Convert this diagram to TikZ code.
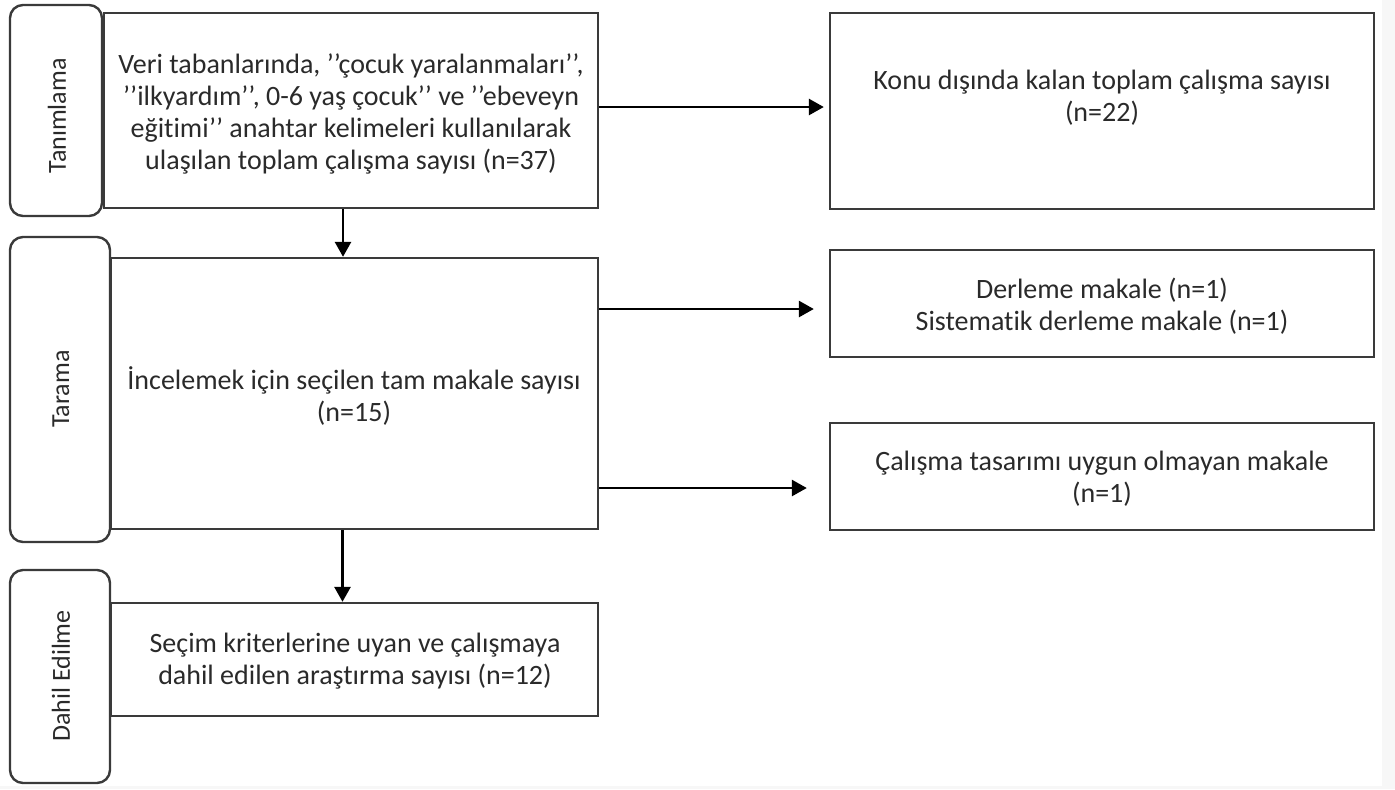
\documentclass[tikz,border=0pt]{standalone}
\usepackage{fontspec}
\setmainfont{Carlito}[Ligatures={NoCommon}]
\usetikzlibrary{arrows.meta,fit}
\definecolor{ln}{HTML}{3A3A3A}
\definecolor{tx}{HTML}{2A2A2A}
\begin{document}
\begin{tikzpicture}[x=0.5pt,y=-0.5pt,
  box/.style={draw=ln, line width=1.2pt, inner sep=0pt, fill=white},
  tab/.style={box, rounded corners=6.5pt},
  txt/.style={font=\fontsize{14}{16}\selectfont, text=tx, align=center, inner sep=0pt},
  tabtxt/.style={txt, font=\fontsize{13}{16}\selectfont, rotate=90},
  arr/.style={line width=1.4pt, draw=black, -{Triangle[length=7.5pt,width=8pt]}}]
\useasboundingbox (0,0) rectangle (1395,789);
\fill[white] (0,0) rectangle (1395,789);
\fill[gray!6] (1382,0) rectangle (1395,789);
\fill[gray!6] (0,786) rectangle (1395,789);

% side tabs
\node[tab, fit={(10,5)(102,216)}] (t1) {};
\node[tab, fit={(10,237)(110,542)}] (t2) {};
\node[tab, fit={(10,570)(110,783)}] (t3) {};
\node[tabtxt] (t1t) at (57,116) {Tanımlama};
\node[tabtxt] (t2t) at (61,389) {Tarama};
\node[tabtxt] (t3t) at (61,676) {Dahil Edilme};

% main boxes
\node[box, fit={(104,13)(598,208)}] (b1) {};
\node[txt] (b1t) at (351,114) {Veri tabanlarında, ’’çocuk yaralanmaları’’,\\ ’’ilkyardım’’, 0-6 yaş çocuk’’ ve ’’ebeveyn\\ eğitimi’’ anahtar kelimeleri kullanılarak\\ ulaşılan toplam çalışma sayısı (n=37)};
\node[box, fit={(111,258)(598,529)}] (b2) {};
\node[txt] (b2t) at (354,396) {İncelemek için seçilen tam makale sayısı\\ (n=15)};
\node[box, fit={(111,603)(598,716)}] (b3) {};
\node[txt] (b3t) at (355,661) {Seçim kriterlerine uyan ve çalışmaya\\ dahil edilen araştırma sayısı (n=12)};

% right boxes
\node[box, fit={(830,13)(1374,209)}] (r1) {};
\node[txt] (r1t) at (1102,98) {Konu dışında kalan toplam çalışma sayısı\\ (n=22)};
\node[box, fit={(830,250)(1374,357)}] (r2) {};
\node[txt] (r2t) at (1102,306) {Derleme makale (n=1)\\ Sistematik derleme makale (n=1)};
\node[box, fit={(830,423)(1374,530)}] (r3) {};
\node[txt] (r3t) at (1102,479) {Çalışma tasarımı uygun olmayan makale\\ (n=1)};

% vertical arrows
\draw[arr] ([xshift=-4pt]b1.south) -- ([xshift=-4pt]b1.south |- b2.north);
\draw[arr] ([xshift=-6pt]b2.south) -- ([xshift=-6pt]b2.south |- b3.north);

% horizontal arrows
\path (b1.east |- r1.center) ++(0,-4) coordinate (a1);
\path (b2.east |- r2.center) ++(0,5.5) coordinate (a2);
\path (b2.east |- r3.center) ++(0,11.5) coordinate (a3);
\draw[arr, shorten >=2.5pt] (a1) -- (a1 -| r1.west);
\draw[arr, shorten >=7.5pt] (a2) -- (a2 -| r2.west);
\draw[arr, shorten >=11pt] (a3) -- (a3 -| r3.west);
\end{tikzpicture}
\end{document}
